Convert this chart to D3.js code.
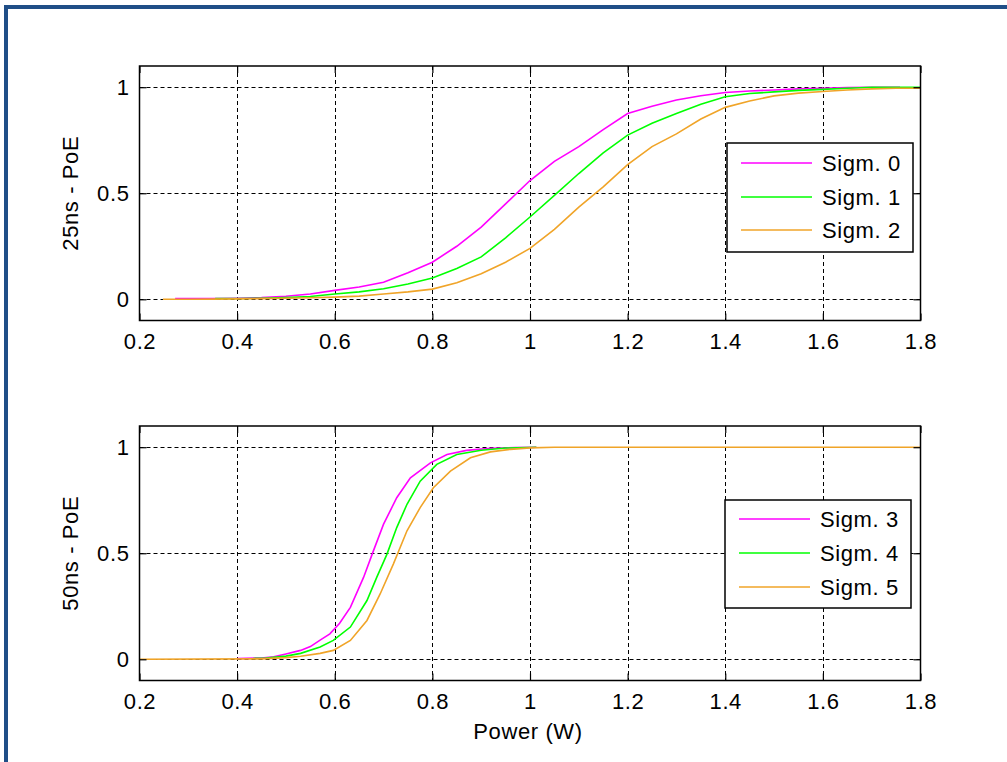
<!DOCTYPE html>
<html>
<head>
<meta charset="utf-8">
<script src="https://cdn.jsdelivr.net/npm/d3@7"></script>
<style>
  html, body { margin: 0; padding: 0; background: #fff; }
  svg { display: block; }
  text { font-family: "Liberation Sans", Arial, sans-serif; fill: #000; letter-spacing: 0.6px; }
</style>
</head>
<body>
<svg id="chart" width="1007" height="762"></svg>
<script>
// ---------- data ----------
const xTicks = [0.2, 0.4, 0.6, 0.8, 1, 1.2, 1.4, 1.6, 1.8];
const yTicks = [0, 0.5, 1];
const xTickLabels = ["0.2", "0.4", "0.6", "0.8", "1", "1.2", "1.4", "1.6", "1.8"];
const yTickLabels = ["0", "0.5", "1"];
const xTitle = "Power (W)";
const yTitles = ["25ns - PoE", "50ns - PoE"];
const seriesNamesTop = ["Sigm. 0", "Sigm. 1", "Sigm. 2"];
const seriesNamesBottom = ["Sigm. 3", "Sigm. 4", "Sigm. 5"];
const seriesColors = ["#ff00ff", "#00ff00", "#f0a428"];

// 25ns plot
const s0x = [0.273,0.35,0.4,0.45,0.5,0.55,0.6,0.65,0.7,0.75,0.8,0.85,0.9,0.95,1.0,1.05,1.1,1.15,1.2,1.25,1.3,1.35,1.4,1.45,1.5,1.55,1.6,1.65,1.7,1.758];
const s0y = [0.003,0.004,0.005,0.008,0.014,0.025,0.042,0.058,0.08,0.125,0.175,0.25,0.34,0.45,0.56,0.65,0.72,0.80,0.876,0.91,0.94,0.96,0.975,0.982,0.987,0.992,0.995,0.998,1.0,1.0];
const s1x = [0.355,0.4,0.45,0.5,0.55,0.6,0.65,0.7,0.75,0.8,0.85,0.9,0.95,1.0,1.05,1.1,1.15,1.2,1.25,1.3,1.35,1.4,1.45,1.5,1.55,1.6,1.65,1.7,1.75,1.8];
const s1y = [0.003,0.004,0.005,0.008,0.013,0.025,0.035,0.05,0.072,0.1,0.145,0.2,0.29,0.388,0.49,0.593,0.69,0.774,0.83,0.876,0.92,0.955,0.97,0.978,0.985,0.99,0.995,1.0,1.0,1.0];
const s2x = [0.248,0.3,0.35,0.4,0.45,0.5,0.55,0.6,0.65,0.7,0.75,0.8,0.85,0.9,0.95,1.0,1.05,1.1,1.15,1.2,1.25,1.3,1.35,1.4,1.45,1.5,1.55,1.6,1.65,1.7,1.75,1.8];
const s2y = [0.0,0.0,0.001,0.002,0.003,0.005,0.007,0.01,0.015,0.025,0.035,0.048,0.078,0.12,0.175,0.24,0.33,0.435,0.53,0.635,0.72,0.78,0.85,0.905,0.935,0.959,0.972,0.98,0.987,0.992,0.995,0.995];

// 50ns plot
const s3x = [0.4,0.45,0.475,0.5,0.53,0.55,0.57,0.59,0.61,0.632,0.659,0.679,0.7,0.727,0.755,0.796,0.83,0.87,0.92,0.97,1.013];
const s3y = [0.004,0.006,0.012,0.025,0.042,0.06,0.09,0.12,0.17,0.245,0.386,0.51,0.637,0.762,0.856,0.926,0.966,0.985,0.995,0.998,1.0];
const s4x = [0.433,0.46,0.5,0.53,0.57,0.597,0.632,0.666,0.686,0.707,0.727,0.748,0.775,0.809,0.85,0.9,0.95,1.013];
const s4y = [0.004,0.006,0.015,0.028,0.058,0.089,0.152,0.277,0.386,0.496,0.621,0.731,0.84,0.919,0.966,0.986,0.996,1.0];
const s5x = [0.2,0.45,0.5,0.53,0.57,0.597,0.632,0.666,0.693,0.72,0.748,0.775,0.802,0.837,0.878,0.919,0.96,1.0,1.05,1.8];
const s5y = [0.0,0.002,0.008,0.014,0.028,0.042,0.089,0.183,0.308,0.449,0.606,0.715,0.809,0.887,0.95,0.978,0.99,0.997,1.0,1.0];

// ---------- drawing ----------
const svg = d3.select("#chart");
const FS = 22;

// blue frame
svg.append("rect").attr("x", 4).attr("y", 5).attr("width", 1003).attr("height", 4).attr("fill", "#1f4e87");
svg.append("rect").attr("x", 4).attr("y", 5).attr("width", 4).attr("height", 757).attr("fill", "#1f4e87");

const panels = [
  { top: 66, bottom: 320.5, yTitle: yTitles[0], names: seriesNamesTop,
    series: [[s0x, s0y], [s1x, s1y], [s2x, s2y]],
    legend: { x: 727, y: 143, w: 186, h: 109, rows: [163, 197, 230] } },
  { top: 426, bottom: 680.5, yTitle: yTitles[1], names: seriesNamesBottom,
    series: [[s3x, s3y], [s4x, s4y], [s5x, s5y]],
    legend: { x: 725, y: 500, w: 186, h: 108, rows: [519, 553, 587] } }
];

const left = 139.5, right = 920.5;
const x = d3.scaleLinear().domain([0.2, 1.8]).range([left, right]);

panels.forEach((p, pi) => {
  const y = d3.scaleLinear().domain([-0.1, 1.1]).range([p.bottom, p.top]);
  const g = svg.append("g");

  // grid
  const grid = g.append("g").attr("stroke", "#000").attr("stroke-width", 1).attr("stroke-dasharray", "4,3");
  xTicks.slice(1, -1).forEach(t => {
    grid.append("line").attr("x1", Math.round(x(t)) + 0.5).attr("x2", Math.round(x(t)) + 0.5)
      .attr("y1", p.top).attr("y2", p.bottom);
  });
  yTicks.forEach(t => {
    grid.append("line").attr("y1", Math.round(y(t)) + 0.5).attr("y2", Math.round(y(t)) + 0.5)
      .attr("x1", left).attr("x2", right);
  });

  // curves
  const line = d3.line().x(d => x(d[0])).y(d => y(d[1]));
  p.series.forEach((s, i) => {
    const pts = s[0].map((v, k) => [v, s[1][k]]);
    g.append("path").datum(pts).attr("d", line).attr("fill", "none")
      .attr("stroke", seriesColors[i]).attr("stroke-width", 1.6);
  });

  // axes with inward ticks
  const tl = 7;
  const axB = d3.axisBottom(x).tickValues(xTicks).tickFormat((d, i) => xTickLabels[i]).tickSizeInner(-tl).tickSizeOuter(0).tickPadding(tl + 6);
  const axT = d3.axisTop(x).tickValues(xTicks).tickFormat("").tickSizeInner(-tl).tickSizeOuter(0);
  const axL = d3.axisLeft(y).tickValues(yTicks).tickFormat((d, i) => yTickLabels[i]).tickSizeInner(-tl).tickSizeOuter(0).tickPadding(tl + 3);
  const axR = d3.axisRight(y).tickValues(yTicks).tickFormat("").tickSizeInner(-tl).tickSizeOuter(0);

  const gb = g.append("g").attr("transform", `translate(0,${p.bottom})`).call(axB);
  const gt = g.append("g").attr("transform", `translate(0,${p.top})`).call(axT);
  const gl = g.append("g").attr("transform", `translate(${left},0)`).call(axL);
  const gr = g.append("g").attr("transform", `translate(${right},0)`).call(axR);
  [gb, gt, gl, gr].forEach(a => {
    a.selectAll("path").remove();
    a.selectAll("line").attr("stroke", "#000").attr("stroke-width", 1.2);
    a.selectAll("text").attr("font-size", FS).attr("font-family", "Liberation Sans, Arial, sans-serif").attr("fill", "#000");
  });

  // box
  g.append("rect").attr("x", left).attr("y", p.top).attr("width", right - left).attr("height", p.bottom - p.top)
    .attr("fill", "none").attr("stroke", "#000").attr("stroke-width", 1.5);

  // y title
  g.append("text").attr("transform", `translate(78,${(p.top + p.bottom) / 2}) rotate(-90)`)
    .attr("text-anchor", "middle").attr("font-size", FS).text(p.yTitle);

  // legend
  const L = p.legend;
  const lg = g.append("g");
  lg.append("rect").attr("x", L.x).attr("y", L.y).attr("width", L.w).attr("height", L.h)
    .attr("fill", "#fff").attr("stroke", "#000").attr("stroke-width", 1.5);
  p.names.forEach((n, i) => {
    lg.append("line").attr("x1", L.x + 14).attr("x2", L.x + 85).attr("y1", L.rows[i]).attr("y2", L.rows[i])
      .attr("stroke", seriesColors[i]).attr("stroke-width", 1.6);
    lg.append("text").attr("x", L.x + 95).attr("y", L.rows[i]).attr("dy", "0.36em")
      .attr("font-size", FS).text(n);
  });
});

// x title
svg.append("text").attr("x", 528).attr("y", 731).attr("dy", "0.36em").attr("text-anchor", "middle")
  .attr("font-size", FS).text(xTitle);
</script>
</body>
</html>
